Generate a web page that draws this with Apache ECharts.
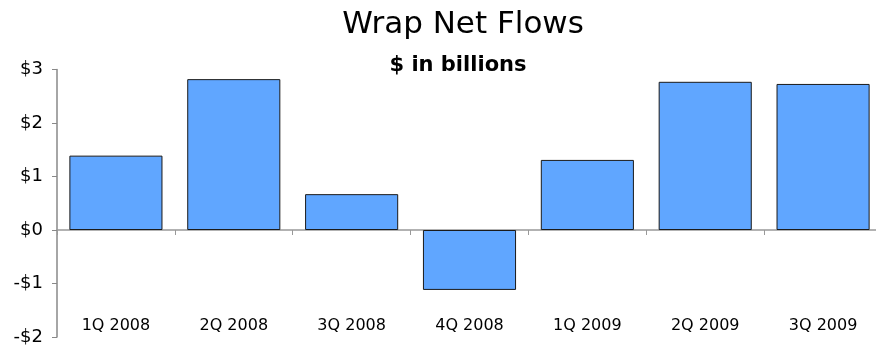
<!DOCTYPE html>
<html><head><meta charset="utf-8">
<script src="https://cdn.jsdelivr.net/npm/echarts@6/dist/echarts.min.js"></script>
<style>html,body{margin:0;padding:0;background:#fff}#c{width:876px;height:346px}</style>
</head><body><div id="c"></div>
<script>
const categories = ['1Q 2008','2Q 2008','3Q 2008','4Q 2008','1Q 2009','2Q 2009','3Q 2009'];
const flows = [1.39, 2.82, 0.67, -1.12, 1.31, 2.77, 2.73];
const yTicks = [-2, -1, 0, 1, 2, 3];

const chart = echarts.init(document.getElementById('c'));
chart.setOption({
  animation: false,
  backgroundColor: '#fff',
  title: [
    {text: 'Wrap Net Flows', left: 458, top: 4, textAlign: 'center',
     textStyle: {fontFamily: 'DejaVu Sans', fontSize: 31, fontWeight: 'normal', color: '#000'}},
    {text: '$ in billions', left: 453, top: 50, textAlign: 'center',
     textStyle: {fontFamily: 'DejaVu Sans', fontSize: 21, fontWeight: 'bold', color: '#000'}}
  ],
  grid: {left: 57, top: 69.5, width: 825, height: 267.5, containLabel: false, outerBoundsMode: 'none'},
  xAxis: [{
    type: 'category', data: categories,
    axisLine: {onZero: true, lineStyle: {color: '#999', width: 1.5}},
    axisTick: {show: true, length: 5, lineStyle: {color: '#999'}},
    axisLabel: {show: false}
  }, {
    type: 'category', data: categories, position: 'bottom',
    axisLine: {show: false, onZero: false},
    axisTick: {show: false},
    axisLabel: {inside: true, margin: 3, fontFamily: 'DejaVu Sans', fontSize: 16, color: '#000'}
  }],
  yAxis: {
    type: 'value', min: yTicks[0], max: yTicks[yTicks.length-1], interval: 1,
    splitLine: {show: false},
    axisLine: {show: true, lineStyle: {color: '#888', width: 1.5}},
    axisTick: {show: true, length: 5, lineStyle: {color: '#888'}},
    axisLabel: {margin: 14, fontFamily: 'DejaVu Sans', fontSize: 18, color: '#000',
      formatter: v => v < 0 ? '-$' + Math.abs(v) : '$' + v}
  },
  series: [{
    type: 'bar', data: flows, barCategoryGap: '21%', xAxisIndex: 0,
    itemStyle: {color: '#60A6FF', borderColor: '#1a1a1a', borderWidth: 1}
  }]
});
</script></body></html>
